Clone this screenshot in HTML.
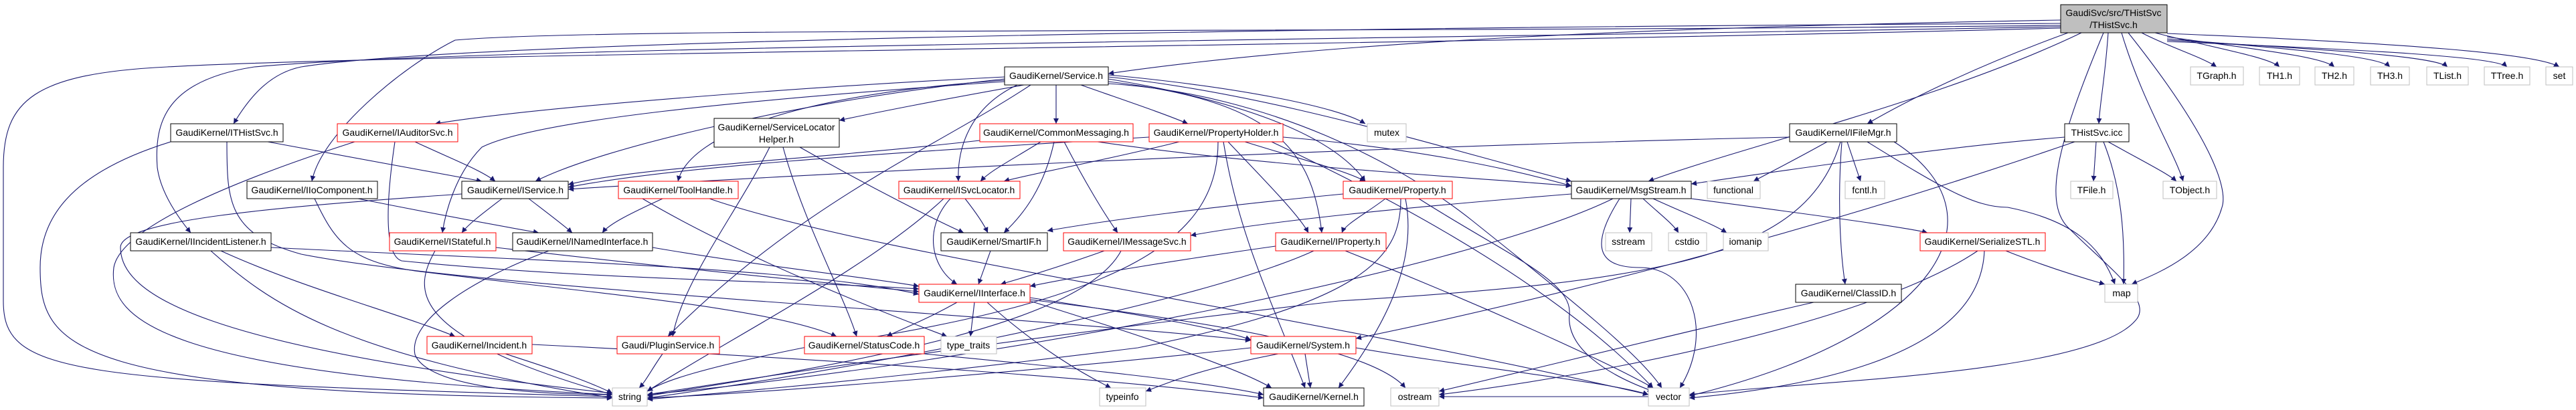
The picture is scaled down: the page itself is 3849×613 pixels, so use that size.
<!DOCTYPE html>
<html><head><meta charset="utf-8"><style>
html,body{margin:0;padding:0;background:#fff;}
svg{display:block}
text{font-family:"Liberation Sans",sans-serif;font-size:14px;fill:#000;text-anchor:middle}
.e{fill:none;stroke:#191970;stroke-width:1.1}
.b{fill:#fff;stroke:#000;stroke-width:1}
.r{fill:#fff;stroke:#f00;stroke-width:1}
.g{fill:#fff;stroke:#bfbfbf;stroke-width:1}
</style></head><body>
<svg width="3849" height="613" viewBox="0 0 3849 613" xmlns="http://www.w3.org/2000/svg">
<defs><marker id="a" viewBox="0 0 10 10" refX="10" refY="5" markerWidth="10" markerHeight="8" markerUnits="userSpaceOnUse" orient="auto"><path d="M0,0 L10,5 L0,10 z" fill="#191970"/></marker></defs>
<g class="e" marker-end="url(#a)">
<path d="M3079,30 C2500,40 2000,60 1656,110"/>
<path d="M3200,49 C3240,70 3290,85 3312,100"/>
<path d="M3220,49 C3300,70 3390,85 3406,100"/>
<path d="M3238,55 C3380,75 3470,85 3488,100"/>
<path d="M3238,58 C3450,75 3555,85 3571,100"/>
<path d="M3238,60 C3500,75 3640,85 3657,100"/>
<path d="M3238,62 C3550,75 3730,85 3746,100"/>
<path d="M3238,50 C3600,65 3790,80 3824,100"/>
<path d="M3150,49 C3145,120 3138,150 3136,185"/>
<path d="M3170,49 C3200,150 3250,230 3262,271"/>
<path d="M3180,49 C3300,200 3330,280 3320,310 C3300,380 3220,410 3185,425"/>
<path d="M3143,49 C3080,200 3050,300 3090,340 C3150,400 3220,450 3190,480 C3120,560 2700,570 2524,590"/>
<path d="M3110,49 C2900,150 2600,220 2463,271"/>
<path d="M3090,49 C2950,100 2850,150 2790,185"/>
<path d="M3079,35 C2000,40 700,60 450,100 C400,110 370,150 349,185"/>
<path d="M3079,38 C2000,50 900,40 680,60 C600,100 480,200 466,271"/>
<path d="M3079,40 C2000,60 700,70 380,100 C250,120 230,180 235,250 C240,290 270,330 285,348"/>
<path d="M3079,42 C2000,70 600,80 250,100 C50,110 5,150 5,250 L5,450 C5,560 100,570 915,593"/>
<path d="M1530,127 C1400,150 1300,170 1254,180"/>
<path d="M1578,127 L1578,185"/>
<path d="M1615,127 C1680,150 1740,170 1775,185"/>
<path d="M1520,127 C1450,160 1430,220 1432,271"/>
<path d="M1501,118 C1200,150 900,220 800,271"/>
<path d="M1501,115 C1200,130 800,160 650,185"/>
<path d="M1501,120 C1200,140 1030,200 1013,271"/>
<path d="M1501,122 C1100,150 800,180 720,220 C680,260 665,320 661,348"/>
<path d="M1656,118 C1850,150 1990,200 2040,271"/>
<path d="M1656,122 C1900,150 1960,220 1975,348"/>
<path d="M1656,115 C1900,140 2150,220 2348,271"/>
<path d="M1656,112 C1850,130 2000,160 2040,185"/>
<path d="M1540,127 C1400,220 1200,300 998,503"/>
<path d="M1656,125 C1900,140 2100,250 2200,330 C2350,450 2450,530 2483,580"/>
<path d="M400,212 C550,240 660,260 720,271"/>
<path d="M255,212 C100,260 60,330 60,400 C60,520 100,590 915,595"/>
<path d="M339,212 C339,300 340,350 450,380 C700,430 1500,470 1869,509"/>
<path d="M620,212 C680,240 720,255 740,271"/>
<path d="M530,212 C350,270 180,340 170,400 C160,480 250,560 915,590"/>
<path d="M590,212 C580,280 570,380 600,390 C900,420 1200,420 1373,432"/>
<path d="M535,297 C650,320 760,340 805,348"/>
<path d="M470,297 C500,360 520,390 620,405 C900,440 1150,460 1250,503"/>
<path d="M790,297 C820,320 840,335 855,348"/>
<path d="M750,297 C720,320 700,335 690,348"/>
<path d="M690,290 C400,310 180,330 180,370 C180,440 300,520 915,588"/>
<path d="M990,297 C940,320 910,335 900,348"/>
<path d="M960,297 C1100,380 1300,460 1415,503"/>
<path d="M1060,297 C1300,380 1900,460 2463,590"/>
<path d="M405,370 C800,390 1200,400 1373,440"/>
<path d="M330,375 C450,430 600,470 680,503"/>
<path d="M315,375 C400,450 500,530 915,595"/>
<path d="M741,370 C1000,400 1200,420 1373,436"/>
<path d="M650,375 C620,430 600,500 915,590"/>
<path d="M975,370 C1150,400 1300,415 1373,428"/>
<path d="M820,375 C700,420 610,480 620,530 C640,580 800,590 915,590"/>
<path d="M755,529 C820,550 880,570 915,588"/>
<path d="M795,515 C1300,540 1700,570 1888,595"/>
<path d="M990,529 C975,550 965,570 955,580"/>
<path d="M1195,220 C1300,280 1400,330 1440,348"/>
<path d="M1170,220 C1200,330 1260,440 1280,503"/>
<path d="M1150,220 C1100,320 1020,420 1005,503"/>
<path d="M1555,212 C1510,240 1480,255 1465,271"/>
<path d="M1575,212 C1560,280 1530,320 1500,348"/>
<path d="M1590,212 C1620,270 1650,320 1670,348"/>
<path d="M1640,212 C1900,250 2200,265 2348,278"/>
<path d="M1464,210 C1200,240 950,250 849,276"/>
<path d="M1762,212 C1650,240 1540,260 1500,271"/>
<path d="M1835,212 C1880,260 1940,320 1955,348"/>
<path d="M1860,212 C1950,240 2010,255 2040,271"/>
<path d="M1717,205 C1300,230 1000,250 849,280"/>
<path d="M1917,205 C2100,220 2250,250 2348,278"/>
<path d="M1820,212 C1820,350 1700,450 1200,520 C1050,550 990,570 967,585"/>
<path d="M1828,212 C1850,350 1900,450 1950,580"/>
<path d="M1900,212 C2000,260 2300,400 2470,580"/>
<path d="M1442,297 C1460,320 1470,335 1476,348"/>
<path d="M1420,297 C1380,340 1390,400 1430,425"/>
<path d="M1410,297 C1300,400 1100,500 967,585"/>
<path d="M1480,375 L1462,425"/>
<path d="M1650,375 C1580,400 1530,415 1495,425"/>
<path d="M1675,375 C1620,480 1300,540 967,592"/>
<path d="M1906,368 C1750,390 1600,415 1539,428"/>
<path d="M1963,375 C1800,450 1300,550 967,595"/>
<path d="M2010,375 C2200,450 2400,540 2470,580"/>
<path d="M2070,297 C2040,320 2010,335 2005,348"/>
<path d="M2007,290 C1800,310 1650,330 1565,345"/>
<path d="M2093,297 C2093,380 2050,450 1700,520 C1300,570 1050,590 967,597"/>
<path d="M2100,297 C2120,400 2060,500 2000,580"/>
<path d="M2120,297 C2250,380 2350,420 2345,470 C2340,520 2400,560 2470,585"/>
<path d="M1430,452 C1380,480 1340,495 1325,503"/>
<path d="M1456,452 L1450,503"/>
<path d="M1475,452 C1550,520 1620,560 1660,580"/>
<path d="M1539,445 C1700,470 1820,490 1869,508"/>
<path d="M1539,448 C1800,480 2050,520 2100,580"/>
<path d="M1539,450 C1700,500 1850,550 1900,580"/>
<path d="M1381,529 C1600,550 1800,570 1888,590"/>
<path d="M1950,529 L1958,580"/>
<path d="M1910,529 C1800,550 1750,570 1712,585"/>
<path d="M1869,520 C1500,560 1100,590 967,595"/>
<path d="M2026,520 C2200,550 2400,570 2463,590"/>
<path d="M2437,297 L2435,348"/>
<path d="M2455,297 C2480,320 2500,335 2508,348"/>
<path d="M2470,297 C2520,320 2560,335 2580,348"/>
<path d="M2527,297 C2700,320 2850,340 2880,348"/>
<path d="M2420,297 C2380,360 2380,400 2450,400 C2530,400 2560,500 2510,580"/>
<path d="M2348,290 C2100,310 1900,330 1779,352"/>
<path d="M2410,297 C2200,400 1500,540 967,590"/>
<path d="M2730,212 C2680,240 2640,260 2620,271"/>
<path d="M2760,212 L2780,271"/>
<path d="M2752,212 C2745,300 2750,380 2757,425"/>
<path d="M2790,212 C2900,280 2950,310 3000,310 C3100,330 3140,370 3160,425"/>
<path d="M2830,212 C3000,320 2900,500 2524,592"/>
<path d="M2674,205 C2000,220 1200,260 849,283"/>
<path d="M2750,212 C2700,380 2500,420 2000,450 C1400,520 1100,570 967,590"/>
<path d="M2710,452 C2500,500 2300,550 2150,585"/>
<path d="M2997,375 C3060,400 3110,415 3145,425"/>
<path d="M2965,375 C2960,500 2800,570 2524,595"/>
<path d="M2955,375 C2800,480 2400,560 2150,590"/>
<path d="M3132,212 L3128,271"/>
<path d="M3150,212 C3200,240 3240,260 3252,271"/>
<path d="M3143,212 C3170,280 3175,350 3173,425"/>
<path d="M3085,205 C2900,220 2700,250 2527,275"/>
<path d="M3100,212 C2700,350 2300,450 2026,506"/>
<path d="M2463,593 L2150,593"/>
</g>
<rect x="3079" y="7" width="159" height="42" fill="#bfbfbf" stroke="#000"/>
<text x="3158" y="24">GaudiSvc/src/THistSvc</text><text x="3158" y="42">/THistSvc.h</text>
<rect class="b" x="1501" y="100" width="155" height="27"/><text x="1578" y="118">GaudiKernel/Service.h</text>
<rect class="g" x="3273" y="100" width="79" height="27"/><text x="3312" y="118">TGraph.h</text>
<rect class="g" x="3376" y="100" width="60" height="27"/><text x="3406" y="118">TH1.h</text>
<rect class="g" x="3459" y="100" width="58" height="27"/><text x="3488" y="118">TH2.h</text>
<rect class="g" x="3542" y="100" width="58" height="27"/><text x="3571" y="118">TH3.h</text>
<rect class="g" x="3626" y="100" width="62" height="27"/><text x="3657" y="118">TList.h</text>
<rect class="g" x="3712" y="100" width="68" height="27"/><text x="3746" y="118">TTree.h</text>
<rect class="g" x="3804" y="100" width="40" height="27"/><text x="3824" y="118">set</text>
<rect class="b" x="255" y="185" width="168" height="27"/><text x="339" y="203">GaudiKernel/ITHistSvc.h</text>
<rect class="r" x="504" y="185" width="180" height="27"/><text x="594" y="203">GaudiKernel/IAuditorSvc.h</text>
<rect class="b" x="1067" y="177" width="187" height="43"/><text x="1160" y="195">GaudiKernel/ServiceLocator</text><text x="1160" y="213">Helper.h</text>
<rect class="r" x="1464" y="185" width="229" height="27"/><text x="1578" y="203">GaudiKernel/CommonMessaging.h</text>
<rect class="r" x="1717" y="185" width="200" height="27"/><text x="1817" y="203">GaudiKernel/PropertyHolder.h</text>
<rect class="g" x="2043" y="185" width="58" height="27"/><text x="2072" y="203">mutex</text>
<rect class="b" x="2674" y="185" width="160" height="27"/><text x="2754" y="203">GaudiKernel/IFileMgr.h</text>
<rect class="b" x="3085" y="185" width="96" height="27"/><text x="3133" y="203">THistSvc.icc</text>
<rect class="b" x="369" y="271" width="195" height="26"/><text x="466" y="289">GaudiKernel/IIoComponent.h</text>
<rect class="b" x="690" y="271" width="159" height="26"/><text x="770" y="289">GaudiKernel/IService.h</text>
<rect class="r" x="924" y="271" width="179" height="26"/><text x="1013" y="289">GaudiKernel/ToolHandle.h</text>
<rect class="r" x="1343" y="271" width="181" height="26"/><text x="1433" y="289">GaudiKernel/ISvcLocator.h</text>
<rect class="r" x="2007" y="271" width="163" height="26"/><text x="2088" y="289">GaudiKernel/Property.h</text>
<rect class="b" x="2348" y="271" width="179" height="26"/><text x="2437" y="289">GaudiKernel/MsgStream.h</text>
<rect class="g" x="2551" y="271" width="79" height="26"/><text x="2590" y="289">functional</text>
<rect class="g" x="2757" y="271" width="59" height="26"/><text x="2786" y="289">fcntl.h</text>
<rect class="g" x="3094" y="271" width="63" height="26"/><text x="3125" y="289">TFile.h</text>
<rect class="g" x="3232" y="271" width="80" height="26"/><text x="3272" y="289">TObject.h</text>
<rect class="b" x="195" y="348" width="210" height="27"/><text x="300" y="366">GaudiKernel/IIncidentListener.h</text>
<rect class="r" x="582" y="348" width="159" height="27"/><text x="661" y="366">GaudiKernel/IStateful.h</text>
<rect class="b" x="766" y="348" width="209" height="27"/><text x="870" y="366">GaudiKernel/INamedInterface.h</text>
<rect class="b" x="1406" y="348" width="159" height="27"/><text x="1485" y="366">GaudiKernel/SmartIF.h</text>
<rect class="r" x="1589" y="348" width="190" height="27"/><text x="1684" y="366">GaudiKernel/IMessageSvc.h</text>
<rect class="r" x="1906" y="348" width="165" height="27"/><text x="1988" y="366">GaudiKernel/IProperty.h</text>
<rect class="g" x="2399" y="348" width="69" height="27"/><text x="2433" y="366">sstream</text>
<rect class="g" x="2493" y="348" width="57" height="27"/><text x="2521" y="366">cstdio</text>
<rect class="g" x="2575" y="348" width="67" height="27"/><text x="2608" y="366">iomanip</text>
<rect class="r" x="2869" y="348" width="187" height="27"/><text x="2962" y="366">GaudiKernel/SerializeSTL.h</text>
<rect class="r" x="1373" y="425" width="166" height="27"/><text x="1456" y="443">GaudiKernel/IInterface.h</text>
<rect class="b" x="2683" y="425" width="158" height="27"/><text x="2762" y="443">GaudiKernel/ClassID.h</text>
<rect class="g" x="3145" y="425" width="49" height="27"/><text x="3170" y="443">map</text>
<rect class="r" x="638" y="503" width="157" height="26"/><text x="716" y="521">GaudiKernel/Incident.h</text>
<rect class="r" x="922" y="503" width="153" height="26"/><text x="998" y="521">Gaudi/PluginService.h</text>
<rect class="r" x="1202" y="503" width="179" height="26"/><text x="1291" y="521">GaudiKernel/StatusCode.h</text>
<rect class="g" x="1406" y="503" width="83" height="26"/><text x="1447" y="521">type_traits</text>
<rect class="r" x="1869" y="503" width="157" height="26"/><text x="1947" y="521">GaudiKernel/System.h</text>
<rect class="g" x="915" y="580" width="52" height="27"/><text x="941" y="598">string</text>
<rect class="g" x="1643" y="580" width="69" height="27"/><text x="1677" y="598">typeinfo</text>
<rect class="b" x="1888" y="580" width="150" height="27"/><text x="1963" y="598">GaudiKernel/Kernel.h</text>
<rect class="g" x="2078" y="580" width="72" height="27"/><text x="2114" y="598">ostream</text>
<rect class="g" x="2463" y="580" width="61" height="27"/><text x="2493" y="598">vector</text>
</svg>
</body></html>
